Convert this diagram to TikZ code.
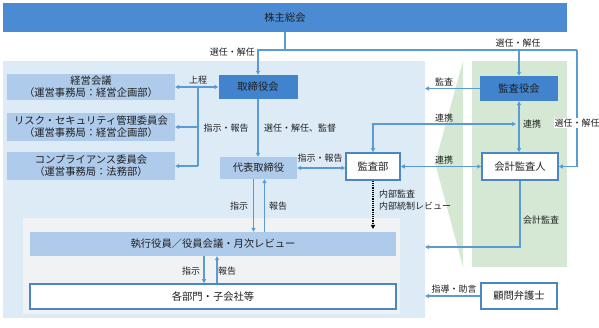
\documentclass[tikz,border=0pt]{standalone}
\usepackage{fontspec}
\setmainfont{Noto Sans CJK JP}
\usetikzlibrary{arrows.meta}
\definecolor{lnc}{HTML}{5B9BD5}
\definecolor{topc}{HTML}{4A8BD4}
\definecolor{midc}{HTML}{4283CD}
\definecolor{lbc}{HTML}{AECBEB}
\definecolor{bgout}{HTML}{DDEBF7}
\definecolor{bgin}{HTML}{F0F2F4}
\definecolor{grn}{HTML}{D5E8D4}
\definecolor{brd}{HTML}{4A86C8}
\definecolor{txt}{HTML}{1F1F1F}
\tikzset{
  ln/.style={draw=lnc, line width=1.2pt},
  arr/.style={ln, -{Triangle[length=4pt,width=4pt]}},
  darr/.style={ln, {Triangle[length=4pt,width=4pt]}-{Triangle[length=4pt,width=4pt]}},
  bx/.style={inner sep=0pt, align=center, text=txt, font=\fontsize{10.3}{12}\selectfont},
  lbox/.style={bx, fill=lbc},
  mbox/.style={bx, fill=midc},
  wbox/.style={bx, fill=white, draw=brd, line width=1.5pt},
  lbl/.style={inner sep=0pt, text=txt, font=\fontsize{9}{11.5}\selectfont}
}
\begin{document}
\begin{tikzpicture}[x=1pt,y=-1pt]
\useasboundingbox (0,0) rectangle (599,328);
% backgrounds
\fill[bgout] (3,61) rectangle (425,318);
\fill[bgin] (23,218) rectangle (400,314);
\fill[grn] (472,61) rectangle (567,267);
\fill[grn] (463,61) -- (435,163) -- (463,267) -- cycle;
% nodes
\node[bx, fill=topc, minimum width=564pt, minimum height=29pt] (sh) at (285,17.5) {株主総会};
\node[lbox, minimum width=168pt, minimum height=26pt] (keiei) at (91,87) {経営会議\\（運営事務局：経営企画部）};
\node[lbox, minimum width=168pt, minimum height=28pt] (risk) at (91,127) {リスク・セキュリティ管理委員会\\（運営事務局：経営企画部）};
\node[lbox, minimum width=168pt, minimum height=28pt] (comp) at (91,166) {コンプライアンス委員会\\（運営事務局：法務部）};
\node[mbox, minimum width=79pt, minimum height=24pt] (tori) at (258,87) {取締役会};
\node[lbox, minimum width=77pt, minimum height=22pt] (daihyo) at (258.5,168) {代表取締役};
\node[wbox, minimum width=54pt, minimum height=27pt] (kansabu) at (373,166.5) {監査部};
\node[wbox, minimum width=76pt, minimum height=27pt] (kaikei) at (520,166.5) {会計監査人};
\node[mbox, minimum width=78pt, minimum height=25pt] (kansayaku) at (519,88.5) {監査役会};
\node[lbox, minimum width=366pt, minimum height=24pt] (shikko) at (213,244) {執行役員／役員会議・月次レビュー};
\node[wbox, minimum width=366pt, minimum height=25pt] (kakubu) at (213,296.5) {各部門・子会社等};
\node[wbox, minimum width=76pt, minimum height=26pt] (komon) at (519,296) {顧問弁護士};
% helper coordinates
\coordinate (tl) at (258,50);
\coordinate (tr) at (577,50);
\coordinate (xr) at (425,0);
\coordinate (c1) at (516,124);
\coordinate (kb) at (425,247);
\coordinate (dd) at (373,229);
\coordinate (v1) at (198,87);
% shareholders
\draw[ln] (sh.south) -- (sh.south |- tl);
\draw[arr] (tr) -- (tl) -- (tori.north);
\draw[arr] (tr) |- (kaikei.east);
\draw[arr] (kansayaku.north |- tl) -- (kansayaku.north);
\node[lbl, anchor=east] (l1) at (255,52) {選任・解任};
\node[lbl] (l2) at (518,43) {選任・解任};
\node[lbl, fill=white, inner sep=1pt] (l3) at (577,123) {選任・解任};
% audit board
\draw[arr] (kansayaku.west) -- (kansayaku.west -| xr);
\node[lbl] (l4) at (444,82) {監査};
\draw[darr] (kansayaku.south) -- (kansayaku.south |- kaikei.north);
\node[lbl] (l6) at (532,124) {連携};
\draw[darr] (kansabu.north) |- (c1);
\node[lbl] (l5) at (444,118) {連携};
\draw[darr] (kansabu.east) -- (kaikei.west);
\node[lbl] (l7) at (444,160) {連携};
\draw[arr] (kaikei.south) |- (kb);
\node[lbl] (l8) at (541,220) {会計監査};
\draw[arr] (komon.west) -- (komon.west -| xr);
\node[lbl] (l9) at (454,289) {指導・助言};
% internal audit
\draw[densely dotted, line width=1.2pt, black, -{Triangle[length=4pt,width=4pt]}] (kansabu.south) -- (dd);
\node[lbl, anchor=north west, align=left] (l10) at (379,190) {内部監査\\内部統制レビュー};
% representative director
\draw[darr] (daihyo.east) -- (daihyo.east -| kansabu.west);
\node[lbl] (l11) at (320,158) {指示・報告};
\draw[arr] (tori.south) -- (tori.south |- daihyo.north);
\node[lbl, anchor=west] (l12) at (264,128) {選任・解任、監督};
\draw[darr] (keiei.east) -- (tori.west);
\node[lbl] (l13) at (198,80) {上程};
\draw[ln] (v1) -- (v1 |- comp.east);
\draw[arr] (v1 |- risk.east) -- (risk.east);
\draw[arr] (v1 |- comp.east) -- (comp.east);
\node[lbl] (l14) at (226,128) {指示・報告};
% executive
\draw[arr] ([xshift=-5pt]daihyo.south) -- ([xshift=-5pt]daihyo.south |- shikko.north);
\draw[arr] ([xshift=6pt]daihyo.south |- shikko.north) -- ([xshift=6pt]daihyo.south);
\node[lbl] (l15) at (239,206) {指示};
\node[lbl] (l16) at (278,206) {報告};
\draw[arr] ([xshift=-9pt]shikko.south) -- ([xshift=-9pt]shikko.south |- kakubu.north);
\draw[arr] ([xshift=4pt]shikko.south |- kakubu.north) -- ([xshift=4pt]shikko.south);
\node[lbl] (l17) at (191,271) {指示};
\node[lbl] (l18) at (227,271) {報告};
\end{tikzpicture}
\end{document}
